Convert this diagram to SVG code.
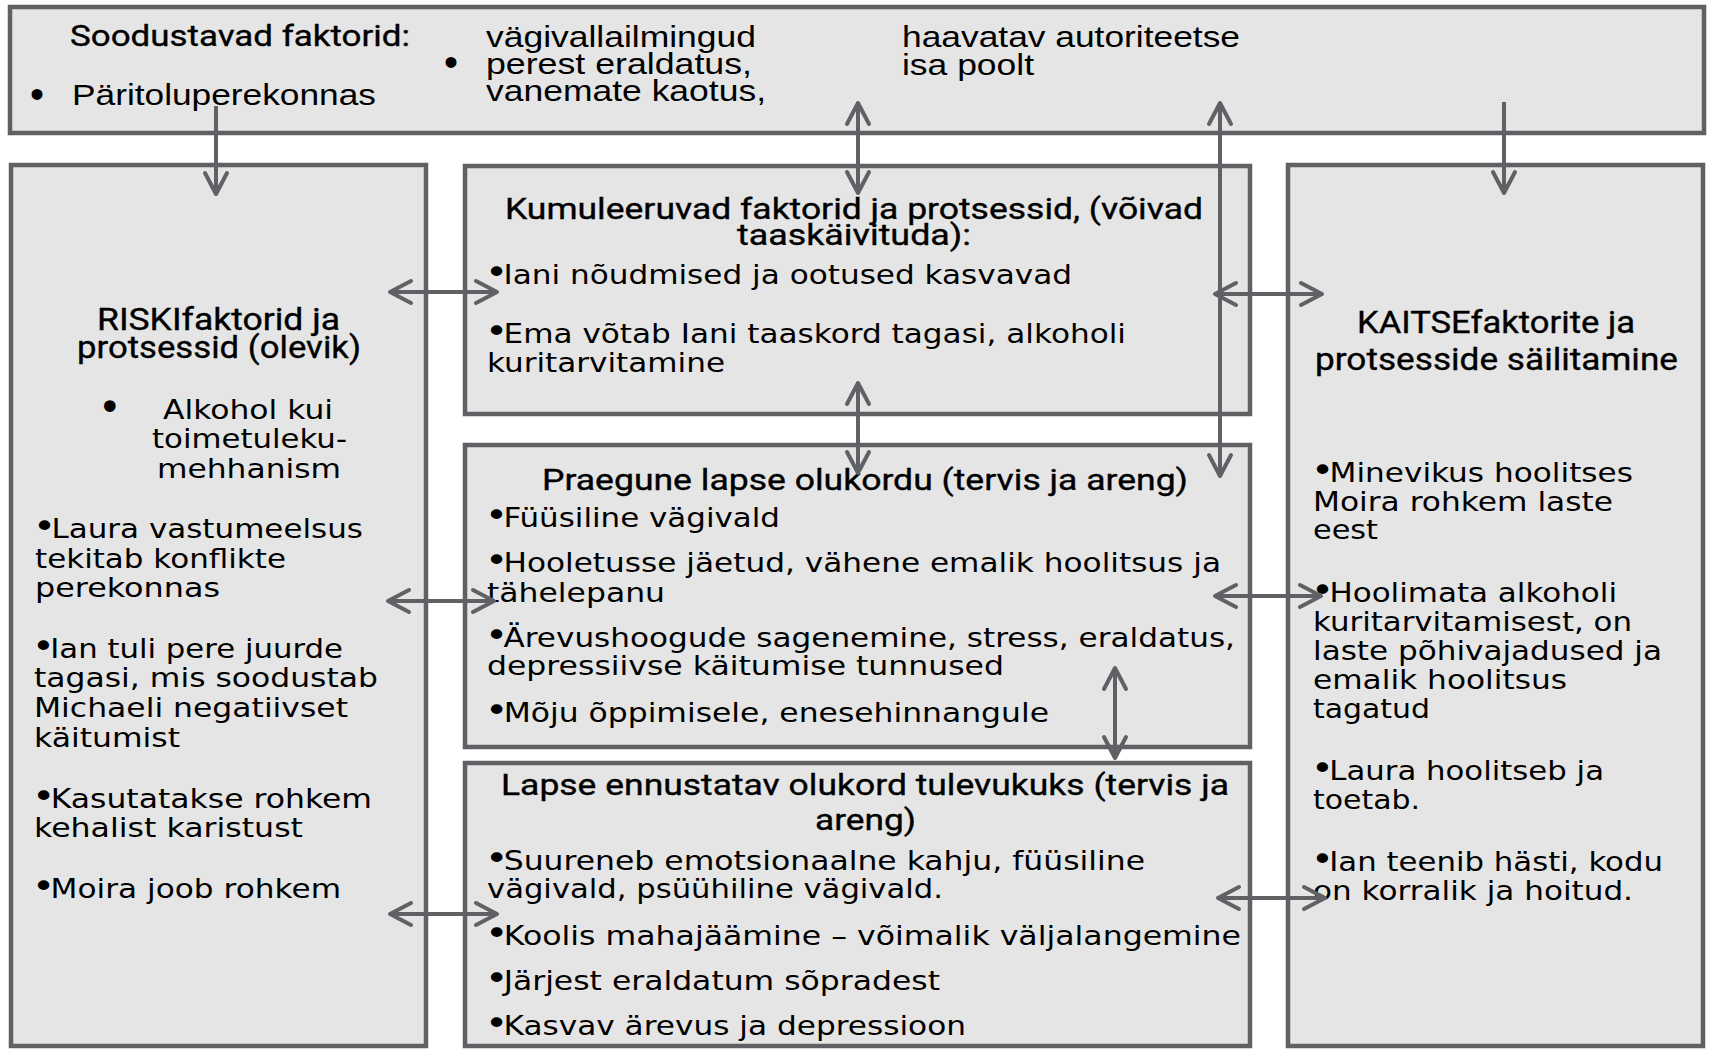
<svg xmlns="http://www.w3.org/2000/svg" width="1710" height="1049" viewBox="0 0 1710 1049">
<defs>
<style>
.box{fill:#e4e5e4;stroke:#5f6165;stroke-width:4.5}
.b{font-family:"DejaVu Sans","Verdana",sans-serif;font-size:27px;fill:#000}
.h{font-family:Roboto,"Liberation Sans",sans-serif;font-weight:normal;fill:#000;stroke:#000;stroke-width:0.35px}
.t{font-family:"Liberation Sans",Arial,sans-serif;font-size:29px;fill:#000}
.c{fill:none;stroke:#5f6165;stroke-width:4}
.u{font-size:34px}
</style>
<marker id="ah" viewBox="-26 -14 30 28" markerWidth="30" markerHeight="28" refX="0" refY="0" orient="auto-start-reverse" markerUnits="userSpaceOnUse">
<path d="M -21 -11 L 0 0 L -21 11" fill="none" stroke="#5f6165" stroke-width="4" stroke-linecap="round" stroke-linejoin="round"/>
</marker>
</defs>
<rect width="1710" height="1049" fill="#ffffff"/>

<g id="soodustavad">
<rect class="box" x="10" y="7" width="1694" height="126"/>
<text class="h" x="70" y="46" font-size="30" textLength="340" lengthAdjust="spacingAndGlyphs">Soodustavad faktorid:</text>
<text class="t" x="30" y="108" style="font-size:40px">•</text>
<text class="t" x="72" y="105" textLength="304" lengthAdjust="spacingAndGlyphs">Päritoluperekonnas</text>
<text class="t" x="444" y="76" style="font-size:40px">•</text>
<text class="t" x="486" y="47" textLength="270" lengthAdjust="spacingAndGlyphs">vägivallailmingud</text>
<text class="t" x="486" y="74" textLength="266" lengthAdjust="spacingAndGlyphs">perest eraldatus,</text>
<text class="t" x="486" y="101" textLength="280" lengthAdjust="spacingAndGlyphs">vanemate kaotus,</text>
<text class="t" x="902" y="47" textLength="338" lengthAdjust="spacingAndGlyphs">haavatav autoriteetse</text>
<text class="t" x="902" y="75" textLength="132" lengthAdjust="spacingAndGlyphs">isa poolt</text>
</g>

<g id="risk">
<rect class="box" x="11" y="165" width="415" height="881"/>
<text class="h" x="97" y="330" font-size="31" textLength="243" lengthAdjust="spacingAndGlyphs">RISKIfaktorid ja</text>
<text class="h" x="77" y="358" font-size="31" textLength="284" lengthAdjust="spacingAndGlyphs">protsessid (olevik)</text>
<text class="b" x="98" y="421" style="font-size:40px">•</text>
<text class="b" x="163" y="419" textLength="170" lengthAdjust="spacingAndGlyphs">Alkohol kui</text>
<text class="b" x="152" y="448" textLength="195" lengthAdjust="spacingAndGlyphs">toimetuleku-</text>
<text class="b" x="157" y="478" textLength="184" lengthAdjust="spacingAndGlyphs">mehhanism</text>
<text class="b" x="33" y="538" textLength="330" lengthAdjust="spacingAndGlyphs"><tspan class="u">•</tspan><tspan dx="-4">Laura vastumeelsus</tspan></text>
<text class="b" x="35" y="568" textLength="251" lengthAdjust="spacingAndGlyphs">tekitab konflikte</text>
<text class="b" x="35" y="597" textLength="185" lengthAdjust="spacingAndGlyphs">perekonnas</text>
<text class="b" x="32" y="658" textLength="311" lengthAdjust="spacingAndGlyphs"><tspan class="u">•</tspan><tspan dx="-4">Ian tuli pere juurde</tspan></text>
<text class="b" x="34" y="687" textLength="344" lengthAdjust="spacingAndGlyphs">tagasi, mis soodustab</text>
<text class="b" x="34" y="717" textLength="314" lengthAdjust="spacingAndGlyphs">Michaeli negatiivset</text>
<text class="b" x="34" y="747" textLength="146" lengthAdjust="spacingAndGlyphs">käitumist</text>
<text class="b" x="32" y="808" textLength="340" lengthAdjust="spacingAndGlyphs"><tspan class="u">•</tspan><tspan dx="-4">Kasutatakse rohkem</tspan></text>
<text class="b" x="34" y="837" textLength="269" lengthAdjust="spacingAndGlyphs">kehalist karistust</text>
<text class="b" x="32" y="898" textLength="309" lengthAdjust="spacingAndGlyphs"><tspan class="u">•</tspan><tspan dx="-4">Moira joob rohkem</tspan></text>
</g>

<g id="kumuleeruvad">
<rect class="box" x="465" y="166" width="785" height="248"/>
<text class="h" x="505" y="219" font-size="29" textLength="698" lengthAdjust="spacingAndGlyphs">Kumuleeruvad faktorid ja protsessid, (võivad</text>
<text class="h" x="737" y="245" font-size="29" textLength="234" lengthAdjust="spacingAndGlyphs">taaskäivituda):</text>
<text class="b" x="485" y="284" textLength="587" lengthAdjust="spacingAndGlyphs"><tspan class="u">•</tspan><tspan dx="-4">Iani nõudmised ja ootused kasvavad</tspan></text>
<text class="b" x="485" y="343" textLength="641" lengthAdjust="spacingAndGlyphs"><tspan class="u">•</tspan><tspan dx="-4">Ema võtab Iani taaskord tagasi, alkoholi</tspan></text>
<text class="b" x="487" y="372" textLength="238" lengthAdjust="spacingAndGlyphs">kuritarvitamine</text>
</g>

<g id="praegune">
<rect class="box" x="465" y="445" width="785" height="302"/>
<text class="h" x="542" y="490" font-size="29" textLength="646" lengthAdjust="spacingAndGlyphs">Praegune lapse olukordu (tervis ja areng)</text>
<text class="b" x="485" y="527" textLength="295" lengthAdjust="spacingAndGlyphs"><tspan class="u">•</tspan><tspan dx="-4">Füüsiline vägivald</tspan></text>
<text class="b" x="485" y="572" textLength="736" lengthAdjust="spacingAndGlyphs"><tspan class="u">•</tspan><tspan dx="-4">Hooletusse jäetud, vähene emalik hoolitsus ja</tspan></text>
<text class="b" x="487" y="602" textLength="178" lengthAdjust="spacingAndGlyphs">tähelepanu</text>
<text class="b" x="485" y="647" textLength="750" lengthAdjust="spacingAndGlyphs"><tspan class="u">•</tspan><tspan dx="-4">Ärevushoogude sagenemine, stress, eraldatus,</tspan></text>
<text class="b" x="487" y="675" textLength="517" lengthAdjust="spacingAndGlyphs">depressiivse käitumise tunnused</text>
<text class="b" x="485" y="722" textLength="564" lengthAdjust="spacingAndGlyphs"><tspan class="u">•</tspan><tspan dx="-4">Mõju õppimisele, enesehinnangule</tspan></text>
</g>

<g id="ennustatav">
<rect class="box" x="465" y="763" width="785" height="283"/>
<text class="h" x="501" y="795" font-size="29" textLength="728" lengthAdjust="spacingAndGlyphs">Lapse ennustatav olukord tulevukuks (tervis ja</text>
<text class="h" x="815" y="830" font-size="29" textLength="101" lengthAdjust="spacingAndGlyphs">areng)</text>
<text class="b" x="485" y="870" textLength="660" lengthAdjust="spacingAndGlyphs"><tspan class="u">•</tspan><tspan dx="-4">Suureneb emotsionaalne kahju, füüsiline</tspan></text>
<text class="b" x="487" y="898" textLength="456" lengthAdjust="spacingAndGlyphs">vägivald, psüühiline vägivald.</text>
<text class="b" x="485" y="945" textLength="756" lengthAdjust="spacingAndGlyphs"><tspan class="u">•</tspan><tspan dx="-4">Koolis mahajäämine – võimalik väljalangemine</tspan></text>
<text class="b" x="485" y="990" textLength="455" lengthAdjust="spacingAndGlyphs"><tspan class="u">•</tspan><tspan dx="-4">Järjest eraldatum sõpradest</tspan></text>
<text class="b" x="485" y="1035" textLength="481" lengthAdjust="spacingAndGlyphs"><tspan class="u">•</tspan><tspan dx="-4">Kasvav ärevus ja depressioon</tspan></text>
</g>

<g id="kaitse">
<rect class="box" x="1288" y="165" width="415" height="881"/>
<text class="h" x="1357" y="333" font-size="31" textLength="278" lengthAdjust="spacingAndGlyphs">KAITSEfaktorite ja</text>
<text class="h" x="1315" y="370" font-size="31" textLength="363" lengthAdjust="spacingAndGlyphs">protsesside säilitamine</text>
<text class="b" x="1311" y="482" textLength="322" lengthAdjust="spacingAndGlyphs"><tspan class="u">•</tspan><tspan dx="-4">Minevikus hoolitses</tspan></text>
<text class="b" x="1313" y="511" textLength="300" lengthAdjust="spacingAndGlyphs">Moira rohkem laste</text>
<text class="b" x="1313" y="539" textLength="65" lengthAdjust="spacingAndGlyphs">eest</text>
<text class="b" x="1311" y="602" textLength="306" lengthAdjust="spacingAndGlyphs"><tspan class="u">•</tspan><tspan dx="-4">Hoolimata alkoholi</tspan></text>
<text class="b" x="1313" y="631" textLength="319" lengthAdjust="spacingAndGlyphs">kuritarvitamisest, on</text>
<text class="b" x="1313" y="660" textLength="349" lengthAdjust="spacingAndGlyphs">laste põhivajadused ja</text>
<text class="b" x="1313" y="689" textLength="254" lengthAdjust="spacingAndGlyphs">emalik hoolitsus</text>
<text class="b" x="1313" y="718" textLength="117" lengthAdjust="spacingAndGlyphs">tagatud</text>
<text class="b" x="1311" y="780" textLength="293" lengthAdjust="spacingAndGlyphs"><tspan class="u">•</tspan><tspan dx="-4">Laura hoolitseb ja</tspan></text>
<text class="b" x="1313" y="809" textLength="107" lengthAdjust="spacingAndGlyphs">toetab.</text>
<text class="b" x="1311" y="871" textLength="352" lengthAdjust="spacingAndGlyphs"><tspan class="u">•</tspan><tspan dx="-4">Ian teenib hästi, kodu</tspan></text>
<text class="b" x="1313" y="900" textLength="320" lengthAdjust="spacingAndGlyphs">on korralik ja hoitud.</text>
</g>

<g id="connectors">
<path class="c" d="M216 106 V194" marker-end="url(#ah)"/>
<path class="c" d="M858 103 V193" marker-start="url(#ah)" marker-end="url(#ah)"/>
<path class="c" d="M1220 103 V476" marker-start="url(#ah)" marker-end="url(#ah)"/>
<path class="c" d="M1504 102 V193" marker-end="url(#ah)"/>
<path class="c" d="M858 383 V473" marker-start="url(#ah)" marker-end="url(#ah)"/>
<path class="c" d="M1115 668 V758" marker-start="url(#ah)" marker-end="url(#ah)"/>
<path class="c" d="M390 292 H497" marker-start="url(#ah)" marker-end="url(#ah)"/>
<path class="c" d="M388 601 H494" marker-start="url(#ah)" marker-end="url(#ah)"/>
<path class="c" d="M390 914 H497" marker-start="url(#ah)" marker-end="url(#ah)"/>
<path class="c" d="M1215 294 H1322" marker-start="url(#ah)" marker-end="url(#ah)"/>
<path class="c" d="M1215 596 H1321" marker-start="url(#ah)" marker-end="url(#ah)"/>
<path class="c" d="M1218 898 H1325" marker-start="url(#ah)" marker-end="url(#ah)"/>
</g>
</svg>
